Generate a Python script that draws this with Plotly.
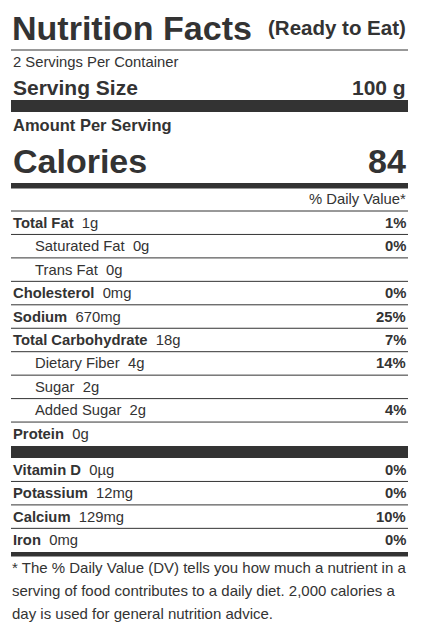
import plotly.graph_objects as go

# label rows
nutrients = ["Total Fat", "Saturated Fat", "Trans Fat", "Cholesterol", "Sodium",
             "Total Carbohydrate", "Dietary Fiber", "Sugar", "Added Sugar", "Protein"]
amounts = ["1g", "0g", "0g", "0mg", "670mg", "18g", "4g", "2g", "2g", "0g"]
daily_pct = ["1%", "0%", "", "0%", "25%", "7%", "14%", "", "4%", ""]
is_sub = [False, True, True, False, False, False, True, True, True, False]

vitamins = ["Vitamin D", "Potassium", "Calcium", "Iron"]
vit_amounts = ["0µg", "12mg", "129mg", "0mg"]
vit_pct = ["0%", "0%", "10%", "0%"]

servings_text = "2 Servings Per Container"
serving_size = "100 g"
calories = 84
footnote = ["* The % Daily Value (DV) tells you how much a nutrient in a",
            "serving of food contributes to a daily diet. 2,000 calories a",
            "day is used for general nutrition advice."]

INK = "#333333"
FONT = "Liberation Sans, Arial, sans-serif"
L, R = 11, 408
ROW_H = 23.45
OFF = 8  # the page body margin pushes the figure by 8px

fig = go.Figure()
shapes = []
ann = []


def text(x, y, s, size, anchor="left", bold=False):
    ann.append(dict(x=x, y=y, text=f"<b>{s}</b>" if bold else s, showarrow=False,
                    xanchor=anchor, yanchor="middle",
                    font=dict(family=FONT, size=size, color=INK)))


def hline(y, w=1):
    shapes.append(dict(type="line", x0=L, x1=R, y0=y, y1=y, line=dict(color=INK, width=w)))


def bar(y0, y1):
    shapes.append(dict(type="rect", x0=L, x1=R, y0=y0, y1=y1, fillcolor=INK, line_width=0))


# outer border
shapes.append(dict(type="rect", x0=4, x1=416, y0=4, y1=640, line=dict(color=INK, width=1.2)))

text(L - 1, 28, "Nutrition Facts", 34, bold=True)
text(R, 27, "(Ready to Eat)", 20.5, anchor="right", bold=True)
hline(50)
text(L, 62, servings_text, 14.8)
text(L, 87, "Serving Size", 21, bold=True)
text(R, 87, serving_size, 21, anchor="right", bold=True)
bar(100, 112)
text(L, 125, "Amount Per Serving", 16.5, bold=True)
text(L, 161, "Calories", 34, bold=True)
text(R, 161, str(calories), 34, anchor="right", bold=True)
bar(183, 188.5)
text(R, 199, "% Daily Value*", 14.8, anchor="right")
hline(211)

y0 = 211
for i, (n, a, p, sub) in enumerate(zip(nutrients, amounts, daily_pct, is_sub)):
    yc = y0 + ROW_H * (i + 0.5)
    if sub:
        text(33, yc, f"{n}&nbsp; {a}", 14.8)
    else:
        text(L, yc, f"<b>{n}</b>&nbsp; {a}", 14.8)
    if p:
        text(R, yc, p, 14.8, anchor="right", bold=True)
    if i < len(nutrients) - 1:
        hline(y0 + ROW_H * (i + 1))

bar(446, 458)
y0 = 458
for i, (n, a, p) in enumerate(zip(vitamins, vit_amounts, vit_pct)):
    yc = y0 + ROW_H * (i + 0.5)
    text(L, yc, f"<b>{n}</b>&nbsp; {a}", 14.8)
    text(R, yc, p, 14.8, anchor="right", bold=True)
    if i < len(vitamins) - 1:
        hline(y0 + ROW_H * (i + 1))

bar(552, 556.5)
for i, line in enumerate(footnote):
    text(L - 1, 567 + 23 * i, line, 15)

fig.update_layout(
    width=421, height=622, margin=dict(l=0, r=0, t=0, b=0),
    paper_bgcolor="white", plot_bgcolor="white", showlegend=False,
    xaxis=dict(range=[OFF, 421 + OFF], visible=False, fixedrange=True),
    yaxis=dict(range=[622 + OFF, OFF], visible=False, fixedrange=True),
    shapes=shapes, annotations=ann,
)
fig.write_html("out.html", config={"displayModeBar": False})
